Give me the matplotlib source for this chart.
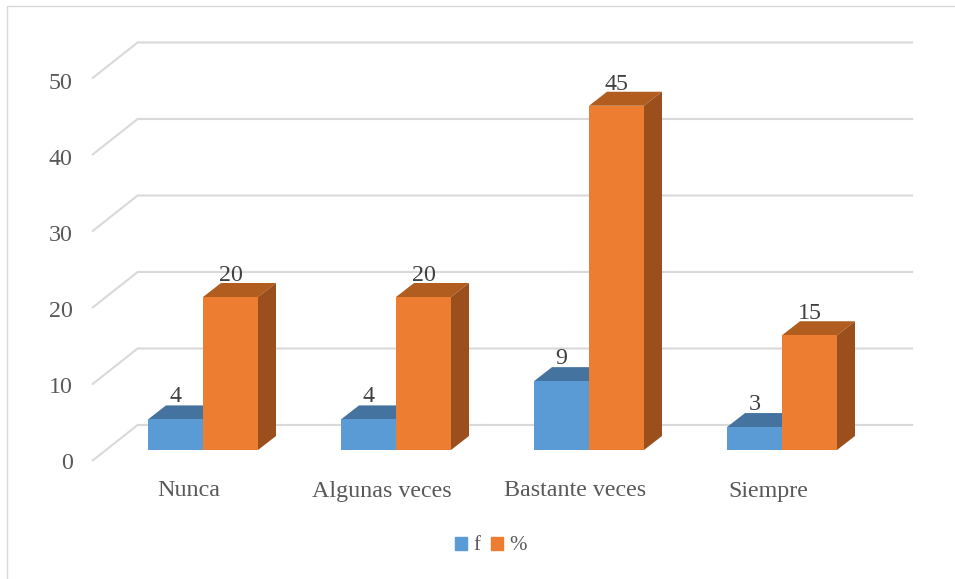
# Barras 3D falsas: f y % por categoria
import matplotlib
matplotlib.use("Agg")
import matplotlib.pyplot as plt
from matplotlib.patches import Patch, Polygon, Rectangle

categorias = ["Nunca", "Algunas veces", "Bastante veces", "Siempre"]
f_vals = [4, 4, 9, 3]
pct_vals = [20, 20, 45, 15]
y_ticks = [0, 10, 20, 30, 40, 50]

W, H = 955, 579
PX_X = 193.0   # pixeles por categoria
PX_Y = 7.65    # pixeles por unidad
BAR_W = 55 / PX_X
DX = 18 / PX_X  # profundidad de la barra
DY = 14 / PX_Y
FS = 17.3

plt.rcParams['font.family'] = ['Liberation Serif', 'DejaVu Serif']

fig = plt.figure(figsize=(W / 100, H / 100), dpi=100)
ax = fig.add_axes([0, 0, 1, 1])
ax.set_xlim(-203 / PX_X, (W - 203) / PX_X)
ax.set_ylim(-(H - 450) / PX_Y, 450 / PX_Y)
ax.axis('off')

# marco exterior
fig.add_artist(Rectangle((7 / W, -0.01), 1, 1 - 6 / H + 0.01, transform=fig.transFigure,
                         fill=False, ec='#D9D9D9', lw=1.0))

# rejilla: pared del fondo y diagonal del suelo
grid_c = '#D9D9D9'
for v in y_ticks:
    ax.plot([-0.575, -0.3387, 3.679], [v - 1.44, v + 3.27, v + 3.27],
            color=grid_c, lw=1.5, zorder=1, solid_capstyle='butt')
    ax.text(-0.675, v * 0.993 - 1.7, str(v), ha='right', va='center',
            fontsize=FS, color='#595959')


def barra(x0, v, frente, arriba, lado, z):
    x1 = x0 + BAR_W
    ax.bar(x0, v, width=BAR_W, align='edge', color=frente, zorder=z + 0.2)
    ax.add_patch(Polygon([(x0, v), (x1, v), (x1 + DX, v + DY), (x0 + DX, v + DY)],
                         closed=True, fc=arriba, ec='none', zorder=z))
    ax.add_patch(Polygon([(x1, 0), (x1 + DX, DY), (x1 + DX, v + DY), (x1, v)],
                         closed=True, fc=lado, ec='none', zorder=z))


for i in range(len(categorias)):
    barra(i - BAR_W, f_vals[i], '#5B9BD5', '#44739F', '#3A6690', 2)
    barra(i, pct_vals[i], '#ED7D31', '#B15D20', '#9A4F1C', 3)

    ax.annotate(str(f_vals[i]), (i - BAR_W / 2, f_vals[i]), xytext=(0, 16.5),
                textcoords='offset points', ha='center', va='center',
                fontsize=FS, color='#404040', zorder=5)
    ax.annotate(str(pct_vals[i]), (i + BAR_W / 2, pct_vals[i]), xytext=(0, 15.5),
                textcoords='offset points', ha='center', va='center',
                fontsize=FS, color='#404040', zorder=5)
    ax.text(i - 14 / PX_X, -41 / PX_Y, categorias[i], ha='center', va='center',
            fontsize=FS, color='#595959')

handles = [Patch(color='#5B9BD5', label='f'), Patch(color='#ED7D31', label='%')]
leg = ax.legend(handles=handles, ncol=2, loc='center', frameon=False,
                bbox_to_anchor=(491 / W, 1 - 546 / H), bbox_transform=fig.transFigure,
                fontsize=15, handlelength=0.576, handleheight=0.576,
                handletextpad=0.3, columnspacing=0.5, borderpad=0, borderaxespad=0,
                labelcolor='#595959')

fig.savefig('out.png', dpi=100)
